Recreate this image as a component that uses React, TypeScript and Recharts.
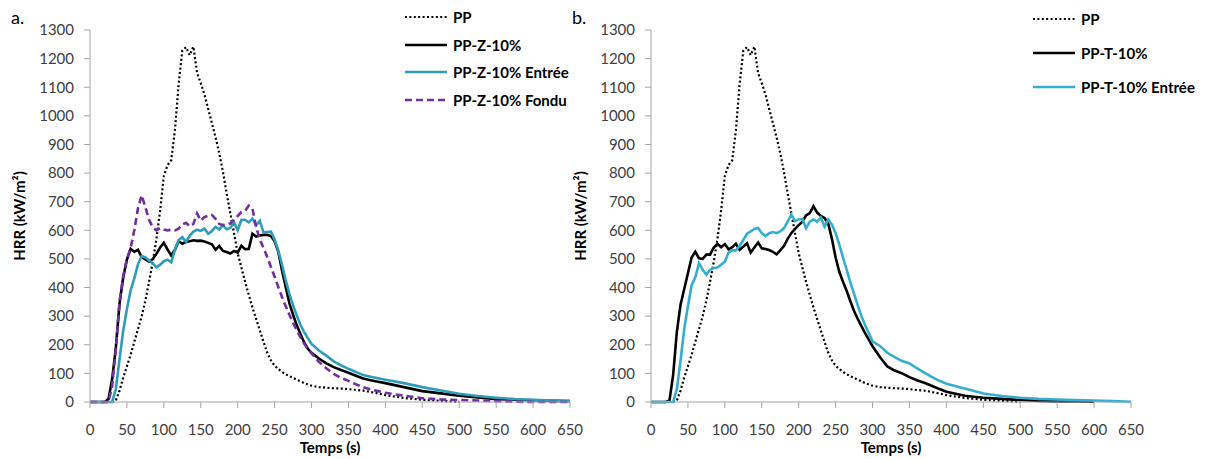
import { LineChart, Line, XAxis, YAxis } from 'recharts'

// temps (s) — pas de 5 s jusqu'à 300, puis plus espacé
const time = [
  0, 5, 10, 15, 20, 25, 30, 35, 40, 45, 50, 55, 60, 65, 70, 75, 80, 85, 90, 95,
  100, 105, 110, 115, 120, 125, 130, 135, 140, 145, 150, 155, 160, 165, 170, 175, 180, 185, 190, 195,
  200, 205, 210, 215, 220, 225, 230, 235, 240, 245, 250, 255, 260, 265, 270, 275, 280, 285, 290, 295,
  300, 310, 320, 330, 340, 350, 360, 370, 380, 390, 400,
  425, 450, 475, 500, 525, 550, 575, 600, 625, 650,
]

const pp = [
  0, 0, 0, 0, 0, 0, 0, 5, 40, 85, 125, 165, 210, 255, 300, 355, 420, 490, 570, 670,
  790, 828, 845, 950, 1110, 1228, 1240, 1212, 1242, 1150, 1114, 1075, 1025, 975, 925, 870, 805, 730, 660, 590,
  520, 470, 420, 375, 330, 290, 250, 210, 172, 145, 127, 115, 105, 97, 90, 84, 78, 72, 66, 61,
  57, 52, 50, 48, 47, 45, 42, 40, 35, 30, 24,
  14, 8, 4, 1, null, null, null, null, null, null,
]

const ppZ = [
  0, 0, 0, 0, 0, 10, 80, 190, 345, 435, 498, 535, 525, 532, 506, 498, 490, 500, 518, 540,
  556, 533, 512, 532, 562, 553, 560, 562, 565, 563, 564, 561, 556, 551, 532, 545, 528, 524, 519, 528,
  522, 546, 534, 535, 588, 578, 582, 584, 584, 580, 562, 525, 460, 402, 345, 305, 268, 238, 208, 186,
  172, 152, 135, 122, 112, 102, 92, 82, 76, 71, 66,
  52, 38, 30, 22, 16, 10, 8, 6, 4, 3,
]

const ppZEntree = [
  0, 0, 0, 0, 0, 0, 0, 45, 150, 250, 325, 390, 432, 482, 510, 505, 495, 485, 470, 480,
  492, 497, 488, 532, 565, 576, 560, 580, 596, 602, 598, 606, 588, 597, 612, 603, 618, 604, 608, 628,
  600, 636, 637, 628, 641, 618, 633, 592, 594, 595, 568, 530, 480, 426, 378, 338, 302, 270, 244, 223,
  203, 180, 162, 142, 128, 116, 105, 94, 88, 83, 78,
  66, 52, 40, 29, 21, 15, 10, 8, 5, 3,
]

const ppZFondu = [
  0, 0, 0, 0, 0, 0, 55, 185, 350, 440, 500, 538, 600, 678, 722, 680, 637, 610, 600, 608,
  603, 600, 602, 600, 606, 620, 626, 614, 622, 659, 634, 646, 651, 654, 640, 622, 618, 620, 624, 638,
  650, 664, 668, 686, 676, 610, 568, 538, 507, 472, 438, 402, 367, 335, 305, 277, 250, 226, 204, 186,
  170, 140, 118, 98, 84, 74, 62, 52, 44, 38, 32,
  22, 13, 9, 7, 5, 3, 1, 0, 0, 0,
]

const ppT = [
  0, 0, 0, 0, 0, 5, 95, 245, 340, 395, 450, 505, 525, 502, 500, 515, 515, 540, 553, 541,
  552, 534, 541, 553, 532, 543, 555, 522, 540, 557, 537, 535, 531, 525, 516, 530, 545, 570, 590, 605,
  618, 630, 652, 660, 684, 662, 650, 643, 624, 570, 505, 455, 420, 388, 352, 318, 290, 265, 240, 218,
  195, 157, 124, 110, 100, 87, 76, 67, 57, 46, 36,
  22, 15, 11, 7, 4, 2, 2, 1, null, null,
]

const ppTEntree = [
  0, 0, 0, 0, 0, 0, 0, 45, 145, 255, 335, 408, 436, 485, 462, 445, 462, 468, 470, 480,
  490, 522, 530, 530, 545, 566, 588, 596, 605, 608, 590, 580, 590, 594, 590, 596, 607, 630, 655, 632,
  638, 640, 607, 630, 638, 630, 645, 613, 638, 620, 590, 550, 505, 462, 418, 378, 338, 300, 268, 240,
  212, 196, 172, 157, 143, 135, 118, 103, 88, 75, 64,
  47, 30, 21, 15, 11, 9, 7, 5, 3, 1,
]

const xTicks = [0, 50, 100, 150, 200, 250, 300, 350, 400, 450, 500, 550, 600, 650]
const yTicks = [0, 100, 200, 300, 400, 500, 600, 700, 800, 900, 1000, 1100, 1200, 1300]

type Serie = { key: string; name: string; values: (number | null)[]; color: string; width: number; dash?: string }

const seriesA: Serie[] = [
  { key: 'pp', name: 'PP', values: pp, color: '#000000', width: 2.2, dash: '2 2.4' },
  { key: 'zb', name: 'PP-Z-10%', values: ppZ, color: '#000000', width: 2.6 },
  { key: 'ze', name: 'PP-Z-10% Entrée', values: ppZEntree, color: '#2f9db8', width: 2.6 },
  { key: 'zf', name: 'PP-Z-10% Fondu', values: ppZFondu, color: '#7030a0', width: 2.6, dash: '7 4' },
]

const seriesB: Serie[] = [
  { key: 'pp', name: 'PP', values: pp, color: '#000000', width: 2.2, dash: '2 2.4' },
  { key: 'tb', name: 'PP-T-10%', values: ppT, color: '#000000', width: 2.6 },
  { key: 'te', name: 'PP-T-10% Entrée', values: ppTEntree, color: '#35aecd', width: 2.6 },
]

const FONT = 'Lato, "Open Sans", sans-serif'
const AXIS = '#a6a6a6'

function buildRows(series: Serie[]) {
  return time.map((t, i) => {
    const row: Record<string, number | null> = { t }
    series.forEach((s) => (row[s.key] = s.values[i] ?? null))
    return row
  })
}

const YLabel = (props: any) => {
  const vb = props.viewBox || { x: 0, y: 0, width: 0, height: 0 }
  const cx = vb.x + 19
  const cy = vb.y + vb.height / 2
  return (
    <text x={cx} y={cy} transform={`rotate(-90, ${cx}, ${cy})`} textAnchor="middle" dominantBaseline="central"
      fontFamily={FONT} fontSize={15} fontWeight={700} fill="#000">
      HRR (kW/m²)
    </text>
  )
}

const XLabel = (props: any) => {
  const vb = props.viewBox || { x: 0, y: 0, width: 0, height: 0 }
  return (
    <text x={vb.x + vb.width / 2} y={vb.y + 45} textAnchor="middle" dominantBaseline="central"
      fontFamily={FONT} fontSize={15} fontWeight={700} fill="#000">
      Temps (s)
    </text>
  )
}

function Panel({ left, letter, series, legendLeft, legendTop, rowGap }: { left: number; letter: string; series: Serie[]; legendLeft: number; legendTop: number; rowGap: number }) {
  const data = buildRows(series)
  return (
    <div style={{ position: 'absolute', left, top: 0, width: 600, height: 459 }}>
      <div style={{ position: 'absolute', left: 11, top: 7, fontFamily: FONT, fontSize: 18, lineHeight: '20px', color: '#000' }}>
        {letter}
      </div>
      <LineChart width={600} height={459} data={data} margin={{ top: 30, right: 30, left: 0, bottom: 0 }}>
        <XAxis type="number" dataKey="t" domain={[0, 650]} ticks={xTicks} interval={0} height={57}
          stroke={AXIS} tickSize={6} tickMargin={16}
          tick={{ fill: '#404040', fontSize: 15, fontFamily: FONT }} label={<XLabel />} />
        <YAxis type="number" domain={[0, 1300]} ticks={yTicks} interval={0} width={90}
          stroke={AXIS} tickSize={6} tickMargin={10}
          tick={{ fill: '#404040', fontSize: 15, fontFamily: FONT }} label={<YLabel />} />
        {series.map((s) => (
          <Line key={s.key} dataKey={s.key} name={s.name} type="linear" stroke={s.color} strokeWidth={s.width}
            strokeDasharray={s.dash} dot={false} activeDot={false} isAnimationActive={false} />
        ))}
      </LineChart>
      <div style={{ position: 'absolute', left: legendLeft, top: legendTop, width: 190 }}>
        {series.map((s) => (
          <div key={s.key} style={{ display: 'flex', alignItems: 'center', height: rowGap, fontFamily: FONT, fontSize: 15, fontWeight: 700, whiteSpace: 'nowrap' }}>
            <svg width={42} height={6} style={{ marginRight: 6, flex: 'none' }}>
              <line x1={0} y1={3} x2={42} y2={3} stroke={s.color} strokeWidth={s.width} strokeDasharray={s.dash} />
            </svg>
            <span>{s.name}</span>
          </div>
        ))}
      </div>
    </div>
  )
}

export default function App() {
  return (
    <div style={{ position: 'absolute', left: 0, top: 0, width: 1205, height: 459, background: '#fff', overflow: 'hidden' }}>
      <Panel left={0} letter="a." series={seriesA} legendLeft={405} legendTop={3} rowGap={27.7} />
      <Panel left={561} letter="b." series={seriesB} legendLeft={472} legendTop={2} rowGap={34} />
    </div>
  )
}
